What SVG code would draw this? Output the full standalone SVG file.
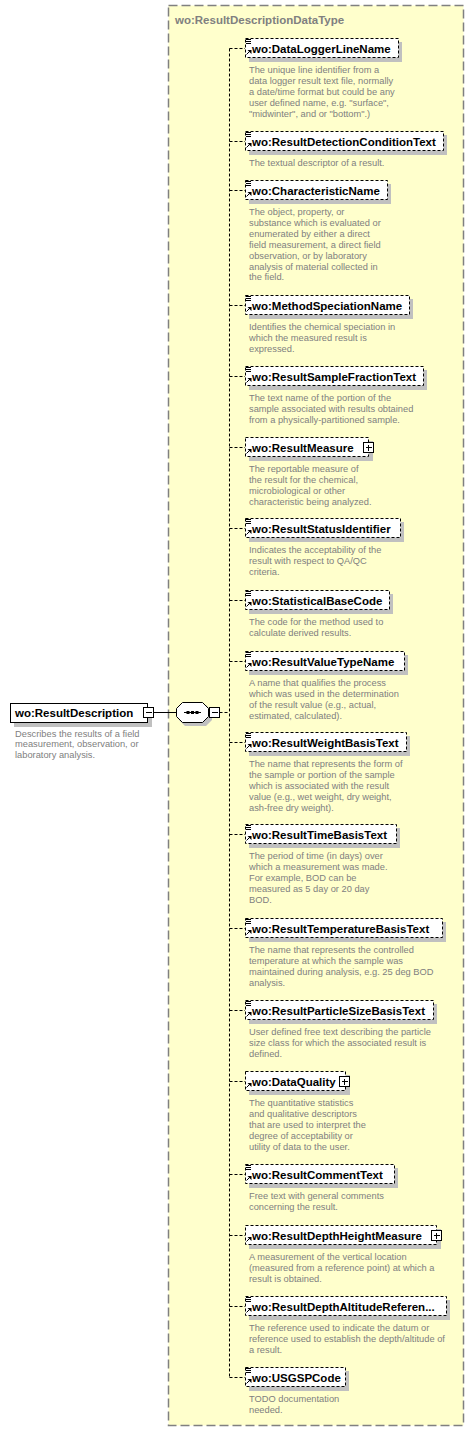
<svg xmlns="http://www.w3.org/2000/svg" xmlns:xlink="http://www.w3.org/1999/xlink" width="474" height="1431" viewBox="0 0 474 1431">
<style>
.bg{fill:#FFFFCC;stroke:#808080;stroke-width:1.5;stroke-dasharray:9,4}
.ttl{font-family:"Liberation Sans",Arial,sans-serif;font-weight:bold;font-size:11.5px;fill:#808080}
.sh{fill:#C0C0C0;stroke:none}
.bx{fill:#FFFFFF;stroke:#000000;stroke-width:1;stroke-dasharray:3,2}
.sb{fill:#FFFFFF;stroke:#000000;stroke-width:1}
.lbl{font-family:"Liberation Sans",Arial,sans-serif;font-weight:bold;font-size:11.5px;fill:#000000}
.desc{font-family:"Liberation Sans",Arial,sans-serif;font-size:9.3px;fill:#808080}
.cn{fill:none;stroke:#000000;stroke-width:1;stroke-dasharray:3,2}
.cs{fill:none;stroke:#000000;stroke-width:1}
.ic{fill:none;stroke:#000000;stroke-width:1}
</style>
<defs>
<g id="simple"><path class="ic" d="M246 -8.5h5M246 -6.5h5M246 -4.5h5"/></g>
<g id="ref"><path class="ic" d="M246.5 6.5L250 3"/><path d="M247.5 2h4v4z" fill="#000"/></g>
<g id="plus"><rect x="-4.5" y="-4.5" width="10" height="10" fill="#fff" stroke="#000"/><path class="ic" d="M-2 0.5h6M0.5 -2v6"/></g>
<g id="minus"><rect x="-4.5" y="-4.5" width="10" height="10" fill="#fff" stroke="#000"/><path class="ic" d="M-2 0.5h6"/></g>
</defs>
<g id="container">
<rect class="bg" x="168.5" y="5.5" width="295" height="1420"/>
<text class="ttl" x="175" y="24">wo:ResultDescriptionDataType</text>
</g>
<g id="connectors">
<path class="cs" d="M153 712.5H176"/>
<path class="cn" d="M219.5 712.5H229.5"/>
<path class="cn" d="M229.5 48.5V1377.5"/>
<path class="cn" d="M229.5 48.5H245M229.5 141.5H245M229.5 190.5H245M229.5 305.5H245M229.5 376.5H245M229.5 447.5H245M229.5 528.5H245M229.5 600.5H245M229.5 661.5H245M229.5 742.5H245M229.5 834.5H245M229.5 928.5H245M229.5 1010.5H245M229.5 1081.5H245M229.5 1174.5H245M229.5 1235.5H245M229.5 1306.5H245M229.5 1377.5H245"/>
</g>
<g id="ResultDescription">
<rect class="sh" x="14" y="707" width="138" height="20"/>
<rect class="sb" x="10.5" y="703.5" width="137" height="19"/>
<text class="lbl" x="15" y="716.5" font-size="11.8px">wo:ResultDescription</text>
<use xlink:href="#minus" x="148" y="712"/>
<text class="desc" x="15" y="736.5"><tspan x="15">Describes the results of a field</tspan><tspan x="15" dy="10.9">measurement, observation, or</tspan><tspan x="15" dy="10.9">laboratory analysis.</tspan></text>
</g>
<g id="sequence">
<polygon class="sh" points="185,705 206,705 212,711 212,720 206,726 185,726 179,720 179,711"/>
<polygon class="sb" points="182.5,702.5 202.5,702.5 208.5,708.5 208.5,716.5 202.5,722.5 182.5,722.5 176.5,716.5 176.5,708.5"/>
<path class="cs" d="M184 712.5H201"/>
<rect x="186.5" y="711" width="3" height="3" fill="#000"/>
<rect x="191" y="711" width="3" height="3" fill="#000"/>
<rect x="195.5" y="711" width="3" height="3" fill="#000"/>
<use xlink:href="#minus" x="214" y="712"/>
</g>
<g id="DataLoggerLineName" transform="translate(0,48)">
<rect class="sh" x="249" y="-6" width="153" height="20"/><rect class="bx" x="245.5" y="-9.5" width="153" height="19"/>
<use xlink:href="#simple"/><use xlink:href="#ref"/>
<text class="lbl" x="252" y="4.5">wo:DataLoggerLineName</text>
<text class="desc" x="249" y="25"><tspan x="249">The unique line identifier from a</tspan><tspan x="249" dy="10.9">data logger result text file, normally</tspan><tspan x="249" dy="10.9">a date/time format but could be any</tspan><tspan x="249" dy="10.9">user defined name, e.g. "surface",</tspan><tspan x="249" dy="10.9">"midwinter", and or "bottom".)</tspan></text>
</g>
<g id="ResultDetectionConditionText" transform="translate(0,141)">
<rect class="sh" x="249" y="-6" width="198" height="20"/><rect class="bx" x="245.5" y="-9.5" width="198" height="19"/>
<use xlink:href="#simple"/><use xlink:href="#ref"/>
<text class="lbl" x="252" y="4.5">wo:ResultDetectionConditionText</text>
<text class="desc" x="249" y="25"><tspan x="249">The textual descriptor of a result.</tspan></text>
</g>
<g id="CharacteristicName" transform="translate(0,190)">
<rect class="sh" x="249" y="-6" width="142" height="20"/><rect class="bx" x="245.5" y="-9.5" width="142" height="19"/>
<use xlink:href="#simple"/><use xlink:href="#ref"/>
<text class="lbl" x="252" y="4.5">wo:CharacteristicName</text>
<text class="desc" x="249" y="25"><tspan x="249">The object, property, or</tspan><tspan x="249" dy="10.9">substance which is evaluated or</tspan><tspan x="249" dy="10.9">enumerated by either a direct</tspan><tspan x="249" dy="10.9">field measurement, a direct field</tspan><tspan x="249" dy="10.9">observation, or by laboratory</tspan><tspan x="249" dy="10.9">analysis of material collected in</tspan><tspan x="249" dy="10.9">the field.</tspan></text>
</g>
<g id="MethodSpeciationName" transform="translate(0,305)">
<rect class="sh" x="249" y="-6" width="164" height="20"/><rect class="bx" x="245.5" y="-9.5" width="164" height="19"/>
<use xlink:href="#simple"/><use xlink:href="#ref"/>
<text class="lbl" x="252" y="4.5">wo:MethodSpeciationName</text>
<text class="desc" x="249" y="25"><tspan x="249">Identifies the chemical speciation in</tspan><tspan x="249" dy="10.9">which the measured result is</tspan><tspan x="249" dy="10.9">expressed.</tspan></text>
</g>
<g id="ResultSampleFractionText" transform="translate(0,376)">
<rect class="sh" x="249" y="-6" width="178" height="20"/><rect class="bx" x="245.5" y="-9.5" width="178" height="19"/>
<use xlink:href="#simple"/><use xlink:href="#ref"/>
<text class="lbl" x="252" y="4.5">wo:ResultSampleFractionText</text>
<text class="desc" x="249" y="25"><tspan x="249">The text name of the portion of the</tspan><tspan x="249" dy="10.9">sample associated with results obtained</tspan><tspan x="249" dy="10.9">from a physically-partitioned sample.</tspan></text>
</g>
<g id="ResultMeasure" transform="translate(0,447)">
<rect class="sh" x="249" y="-6" width="124" height="20"/><rect class="bx" x="245.5" y="-9.5" width="123" height="19"/>
<use xlink:href="#ref"/>
<text class="lbl" x="252" y="4.5">wo:ResultMeasure</text>
<use xlink:href="#plus" x="368" y="0"/>
<text class="desc" x="249" y="25"><tspan x="249">The reportable measure of</tspan><tspan x="249" dy="10.9">the result for the chemical,</tspan><tspan x="249" dy="10.9">microbiological or other</tspan><tspan x="249" dy="10.9">characteristic being analyzed.</tspan></text>
</g>
<g id="ResultStatusIdentifier" transform="translate(0,528)">
<rect class="sh" x="249" y="-6" width="155" height="20"/><rect class="bx" x="245.5" y="-9.5" width="155" height="19"/>
<use xlink:href="#simple"/><use xlink:href="#ref"/>
<text class="lbl" x="252" y="4.5">wo:ResultStatusIdentifier</text>
<text class="desc" x="249" y="25"><tspan x="249">Indicates the acceptability of the</tspan><tspan x="249" dy="10.9">result with respect to QA/QC</tspan><tspan x="249" dy="10.9">criteria.</tspan></text>
</g>
<g id="StatisticalBaseCode" transform="translate(0,600)">
<rect class="sh" x="249" y="-6" width="144" height="20"/><rect class="bx" x="245.5" y="-9.5" width="144" height="19"/>
<use xlink:href="#simple"/><use xlink:href="#ref"/>
<text class="lbl" x="252" y="4.5">wo:StatisticalBaseCode</text>
<text class="desc" x="249" y="25"><tspan x="249">The code for the method used to</tspan><tspan x="249" dy="10.9">calculate derived results.</tspan></text>
</g>
<g id="ResultValueTypeName" transform="translate(0,661)">
<rect class="sh" x="249" y="-6" width="159" height="20"/><rect class="bx" x="245.5" y="-9.5" width="159" height="19"/>
<use xlink:href="#simple"/><use xlink:href="#ref"/>
<text class="lbl" x="252" y="4.5">wo:ResultValueTypeName</text>
<text class="desc" x="249" y="25"><tspan x="249">A name that qualifies the process</tspan><tspan x="249" dy="10.9">which was used in the determination</tspan><tspan x="249" dy="10.9">of the result value (e.g., actual,</tspan><tspan x="249" dy="10.9">estimated, calculated).</tspan></text>
</g>
<g id="ResultWeightBasisText" transform="translate(0,742)">
<rect class="sh" x="249" y="-6" width="161" height="20"/><rect class="bx" x="245.5" y="-9.5" width="161" height="19"/>
<use xlink:href="#simple"/><use xlink:href="#ref"/>
<text class="lbl" x="252" y="4.5">wo:ResultWeightBasisText</text>
<text class="desc" x="249" y="25"><tspan x="249">The name that represents the form of</tspan><tspan x="249" dy="10.9">the sample or portion of the sample</tspan><tspan x="249" dy="10.9">which is associated with the result</tspan><tspan x="249" dy="10.9">value (e.g., wet weight, dry weight,</tspan><tspan x="249" dy="10.9">ash-free dry weight).</tspan></text>
</g>
<g id="ResultTimeBasisText" transform="translate(0,834)">
<rect class="sh" x="249" y="-6" width="151" height="20"/><rect class="bx" x="245.5" y="-9.5" width="151" height="19"/>
<use xlink:href="#simple"/><use xlink:href="#ref"/>
<text class="lbl" x="252" y="4.5">wo:ResultTimeBasisText</text>
<text class="desc" x="249" y="25"><tspan x="249">The period of time (in days) over</tspan><tspan x="249" dy="10.9">which a measurement was made.</tspan><tspan x="249" dy="10.9">For example, BOD can be</tspan><tspan x="249" dy="10.9">measured as 5 day or 20 day</tspan><tspan x="249" dy="10.9">BOD.</tspan></text>
</g>
<g id="ResultTemperatureBasisText" transform="translate(0,928)">
<rect class="sh" x="249" y="-6" width="197" height="20"/><rect class="bx" x="245.5" y="-9.5" width="197" height="19"/>
<use xlink:href="#simple"/><use xlink:href="#ref"/>
<text class="lbl" x="252" y="4.5">wo:ResultTemperatureBasisText</text>
<text class="desc" x="249" y="25"><tspan x="249">The name that represents the controlled</tspan><tspan x="249" dy="10.9">temperature at which the sample was</tspan><tspan x="249" dy="10.9">maintained during analysis, e.g. 25 deg BOD</tspan><tspan x="249" dy="10.9">analysis.</tspan></text>
</g>
<g id="ResultParticleSizeBasisText" transform="translate(0,1010)">
<rect class="sh" x="249" y="-6" width="188" height="20"/><rect class="bx" x="245.5" y="-9.5" width="188" height="19"/>
<use xlink:href="#simple"/><use xlink:href="#ref"/>
<text class="lbl" x="252" y="4.5">wo:ResultParticleSizeBasisText</text>
<text class="desc" x="249" y="25"><tspan x="249">User defined free text describing the particle</tspan><tspan x="249" dy="10.9">size class for which the associated result is</tspan><tspan x="249" dy="10.9">defined.</tspan></text>
</g>
<g id="DataQuality" transform="translate(0,1081)">
<rect class="sh" x="249" y="-6" width="101" height="20"/><rect class="bx" x="245.5" y="-9.5" width="100" height="19"/>
<use xlink:href="#ref"/>
<text class="lbl" x="252" y="4.5">wo:DataQuality</text>
<use xlink:href="#plus" x="344" y="0"/>
<text class="desc" x="249" y="25"><tspan x="249">The quantitative statistics</tspan><tspan x="249" dy="10.9">and qualitative descriptors</tspan><tspan x="249" dy="10.9">that are used to interpret the</tspan><tspan x="249" dy="10.9">degree of acceptability or</tspan><tspan x="249" dy="10.9">utility of data to the user.</tspan></text>
</g>
<g id="ResultCommentText" transform="translate(0,1174)">
<rect class="sh" x="249" y="-6" width="149" height="20"/><rect class="bx" x="245.5" y="-9.5" width="149" height="19"/>
<use xlink:href="#simple"/><use xlink:href="#ref"/>
<text class="lbl" x="252" y="4.5">wo:ResultCommentText</text>
<text class="desc" x="249" y="25"><tspan x="249">Free text with general comments</tspan><tspan x="249" dy="10.9">concerning the result.</tspan></text>
</g>
<g id="ResultDepthHeightMeasure" transform="translate(0,1235)">
<rect class="sh" x="249" y="-6" width="192" height="20"/><rect class="bx" x="245.5" y="-9.5" width="191" height="19"/>
<use xlink:href="#ref"/>
<text class="lbl" x="252" y="4.5">wo:ResultDepthHeightMeasure</text>
<use xlink:href="#plus" x="436" y="0"/>
<text class="desc" x="249" y="25"><tspan x="249">A measurement of the vertical location</tspan><tspan x="249" dy="10.9">(measured from a reference point) at which a</tspan><tspan x="249" dy="10.9">result is obtained.</tspan></text>
</g>
<g id="ResultDepthAltitudeReference" transform="translate(0,1306)">
<rect class="sh" x="249" y="-6" width="201" height="20"/><rect class="bx" x="245.5" y="-9.5" width="201" height="19"/>
<use xlink:href="#simple"/><use xlink:href="#ref"/>
<text class="lbl" x="252" y="4.5">wo:ResultDepthAltitudeReferen...</text>
<text class="desc" x="249" y="25"><tspan x="249">The reference used to indicate the datum or</tspan><tspan x="249" dy="10.9">reference used to establish the depth/altitude of</tspan><tspan x="249" dy="10.9">a result.</tspan></text>
</g>
<g id="USGSPCode" transform="translate(0,1377)">
<rect class="sh" x="249" y="-6" width="100" height="20"/><rect class="bx" x="245.5" y="-9.5" width="100" height="19"/>
<use xlink:href="#simple"/><use xlink:href="#ref"/>
<text class="lbl" x="252" y="4.5">wo:USGSPCode</text>
<text class="desc" x="249" y="25"><tspan x="249">TODO documentation</tspan><tspan x="249" dy="10.9">needed.</tspan></text>
</g>
</svg>
